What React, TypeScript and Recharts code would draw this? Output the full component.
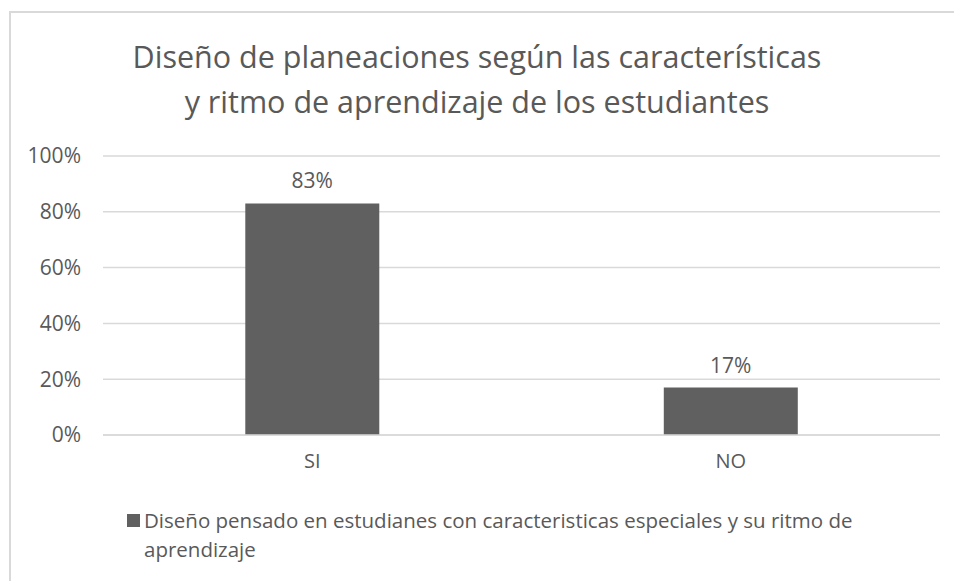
import { BarChart, Bar, XAxis, YAxis, CartesianGrid, LabelList, Legend } from "recharts";

const categories = ["SI", "NO"];
const shares = [0.83, 0.17];
const yTicks = [0, 0.2, 0.4, 0.6, 0.8, 1];
const seriesName =
  "Diseño pensado en estudianes con caracteristicas especiales y su ritmo de aprendizaje";
const titleLines = [
  "Diseño de planeaciones según las características",
  "y ritmo de aprendizaje de los estudiantes",
];

const data = categories.map((cat, i) => ({ cat, value: shares[i] }));

const TEXT = "#595959";
const FONT = "'Open Sans', sans-serif";
const pct = (v: number) => `${Math.round(v * 100)}%`;

function LegendBox() {
  return (
    <div style={{ display: "flex", alignItems: "flex-start", fontFamily: FONT, fontSize: 20.5, color: TEXT, lineHeight: "29px" }}>
      <span style={{ width: 13, height: 13, background: "#606060", marginTop: 8, marginRight: 4, flexShrink: 0 }} />
      <span style={{ width: 730 }}>{seriesName}</span>
    </div>
  );
}

export default function App() {
  return (
    <div style={{ position: "absolute", left: 0, top: 0, width: 954, height: 581, overflow: "hidden", background: "#fff" }}>
      <div style={{ position: "absolute", left: 9, top: 11, width: 1000, height: 700, border: "2px solid #d9d9d9" }} />
      <div
        style={{
          position: "absolute",
          top: 34,
          left: 0,
          width: 954,
          textAlign: "center",
          fontFamily: FONT,
          fontSize: 30.5,
          lineHeight: "45px",
          color: TEXT,
        }}
      >
        {titleLines.map((t) => (
          <div key={t}>{t}</div>
        ))}
      </div>
      <BarChart
        width={954}
        height={581}
        data={data}
        margin={{ top: 156, right: 14, bottom: 116, left: 0 }}
        barCategoryGap="34%"
      >
        <CartesianGrid vertical={false} stroke="#d9d9d9" strokeWidth={1.5} />
        <XAxis
          dataKey="cat"
          axisLine={{ stroke: "#d9d9d9", strokeWidth: 1.5 }}
          tickLine={false}
          tickSize={0}
          tickMargin={19}
          height={30}
          tick={{ fill: TEXT, fontSize: 20, fontFamily: FONT }}
        />
        <YAxis
          domain={[0, 1]}
          ticks={yTicks}
          tickFormatter={pct}
          axisLine={false}
          tickLine={false}
          tickSize={0}
          tickMargin={22}
          width={103}
          tick={{ fill: TEXT, fontSize: 21, fontFamily: FONT }}
        />
        <Legend
          verticalAlign="middle"
          align="center"
          wrapperStyle={{ left: 127, top: 506, width: 780 }}
          content={() => <LegendBox />}
        />
        <Bar dataKey="value" name={seriesName} fill="#606060" isAnimationActive={false}>
          <LabelList
            dataKey="value"
            position="top"
            offset={15}
            formatter={(v: any) => pct(Number(v))}
            style={{ fill: TEXT, fontSize: 21, fontFamily: FONT }}
          />
        </Bar>
      </BarChart>
    </div>
  );
}
